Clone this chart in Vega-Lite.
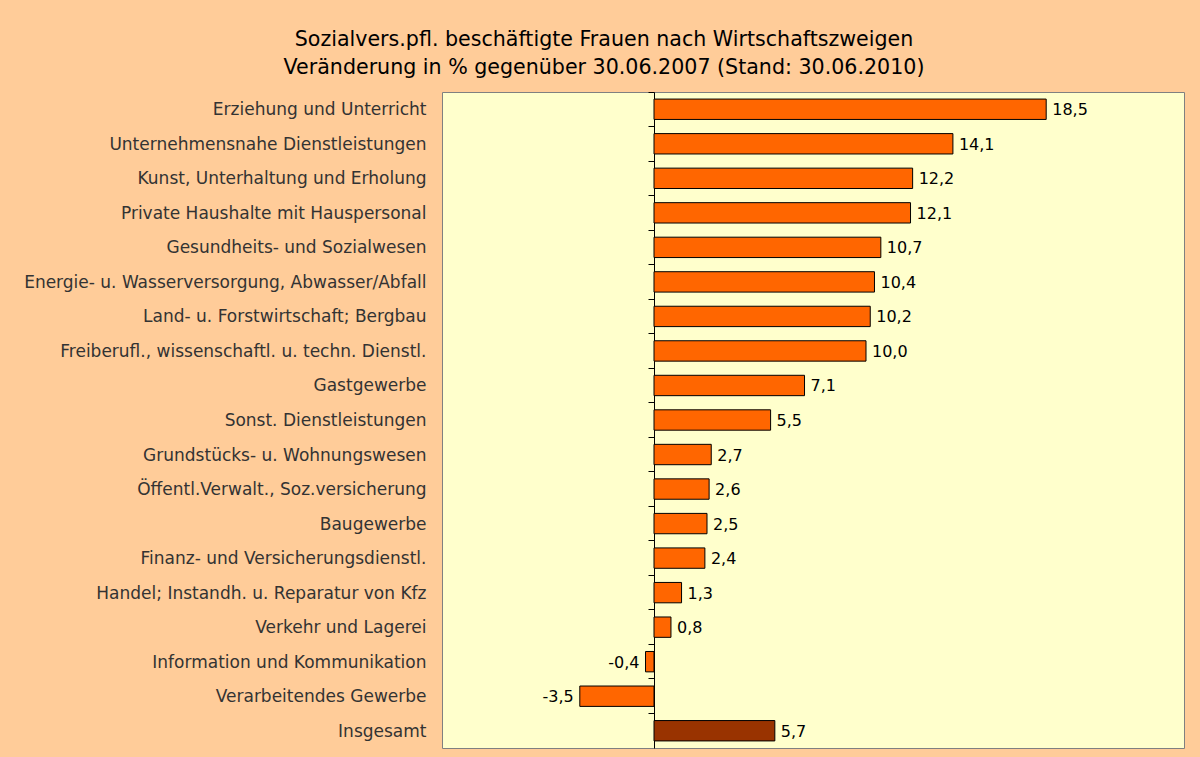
{
  "$schema": "https://vega.github.io/schema/vega-lite/v6.json",
  "width": 742,
  "height": 656,
  "autosize": {"type": "none"},
  "padding": {"left": 442, "top": 92, "right": 16, "bottom": 9},
  "background": "#FFCC99",
  "config": {
    "view": {"fill": "#FFFFCC", "stroke": "#808080", "strokeWidth": 1},
    "locale": {"number": {"decimal": ",", "thousands": ".", "grouping": [3], "currency": ["", " €"], "minus": "-"}}
  },
  "title": {
    "text": ["Sozialvers.pfl. beschäftigte Frauen nach Wirtschaftszweigen", "Veränderung in % gegenüber 30.06.2007 (Stand: 30.06.2010)"],
    "anchor": "middle",
    "frame": "group",
    "dx": -209,
    "font": "DejaVu Sans",
    "fontSize": 20.6,
    "fontWeight": "normal",
    "color": "#000000",
    "lineHeight": 28,
    "offset": 13
  },
  "data": {
    "values": [
      {"cat": "Erziehung und Unterricht", "value": 18.5, "typ": "Zweig"},
      {"cat": "Unternehmensnahe Dienstleistungen ", "value": 14.1, "typ": "Zweig"},
      {"cat": "Kunst, Unterhaltung und Erholung", "value": 12.2, "typ": "Zweig"},
      {"cat": "Private Haushalte mit Hauspersonal", "value": 12.1, "typ": "Zweig"},
      {"cat": "Gesundheits- und Sozialwesen", "value": 10.7, "typ": "Zweig"},
      {"cat": "Energie- u. Wasserversorgung, Abwasser/Abfall", "value": 10.4, "typ": "Zweig"},
      {"cat": "Land- u. Forstwirtschaft; Bergbau", "value": 10.2, "typ": "Zweig"},
      {"cat": "Freiberufl., wissenschaftl. u. techn. Dienstl.", "value": 10.0, "typ": "Zweig"},
      {"cat": "Gastgewerbe", "value": 7.1, "typ": "Zweig"},
      {"cat": "Sonst. Dienstleistungen", "value": 5.5, "typ": "Zweig"},
      {"cat": "Grundstücks- u. Wohnungswesen", "value": 2.7, "typ": "Zweig"},
      {"cat": "Öffentl.Verwalt., Soz.versicherung", "value": 2.6, "typ": "Zweig"},
      {"cat": "Baugewerbe", "value": 2.5, "typ": "Zweig"},
      {"cat": "Finanz- und Versicherungsdienstl.", "value": 2.4, "typ": "Zweig"},
      {"cat": "Handel; Instandh. u. Reparatur von Kfz", "value": 1.3, "typ": "Zweig"},
      {"cat": "Verkehr und Lagerei", "value": 0.8, "typ": "Zweig"},
      {"cat": "Information und Kommunikation", "value": -0.4, "typ": "Zweig"},
      {"cat": "Verarbeitendes Gewerbe", "value": -3.5, "typ": "Zweig"},
      {"cat": "Insgesamt", "value": 5.7, "typ": "Gesamt"}
    ]
  },
  "resolve": {"axis": {"y": "independent"}},
  "layer": [
    {
      "mark": {"type": "bar", "stroke": "#000000", "strokeWidth": 1, "height": {"band": 0.59}},
      "encoding": {
        "y": {
          "field": "cat", "type": "nominal", "sort": null,
          "scale": {"paddingInner": 0, "paddingOuter": 0},
          "axis": {
            "orient": "left", "title": null, "domain": false, "ticks": false,
            "labelPadding": 16, "labelFont": "DejaVu Sans", "labelFontSize": 17,
            "labelColor": "#333333", "labelLimit": 500, "labelOffset": 1
          }
        },
        "x": {
          "field": "value", "type": "quantitative",
          "scale": {"domain": [-10, 25], "nice": false, "zero": false},
          "axis": null
        },
        "color": {
          "field": "typ", "type": "nominal",
          "scale": {"domain": ["Zweig", "Gesamt"], "range": ["#FF6600", "#993300"]},
          "legend": null
        }
      }
    },
    {
      "transform": [{"filter": "datum.value >= 0"}],
      "mark": {"type": "text", "align": "left", "baseline": "middle", "dx": 6, "dy": 1, "font": "DejaVu Sans", "fontSize": 16, "color": "#000000"},
      "encoding": {
        "y": {
          "field": "cat", "type": "nominal", "sort": null,
          "axis": {
            "orient": "right", "offset": -530, "title": null, "labels": false,
            "domain": true, "domainColor": "#000000", "domainWidth": 1,
            "ticks": true, "tickColor": "#000000", "tickSize": -6, "bandPosition": 0
          }
        },
        "x": {"field": "value", "type": "quantitative"},
        "text": {"field": "value", "type": "quantitative", "format": ".1f"}
      }
    },
    {
      "transform": [{"filter": "datum.value < 0"}],
      "mark": {"type": "text", "align": "right", "baseline": "middle", "dx": -6, "dy": 1, "font": "DejaVu Sans", "fontSize": 16, "color": "#000000"},
      "encoding": {
        "y": {"field": "cat", "type": "nominal", "sort": null, "axis": null},
        "x": {"field": "value", "type": "quantitative"},
        "text": {"field": "value", "type": "quantitative", "format": ".1f"}
      }
    }
  ]
}
